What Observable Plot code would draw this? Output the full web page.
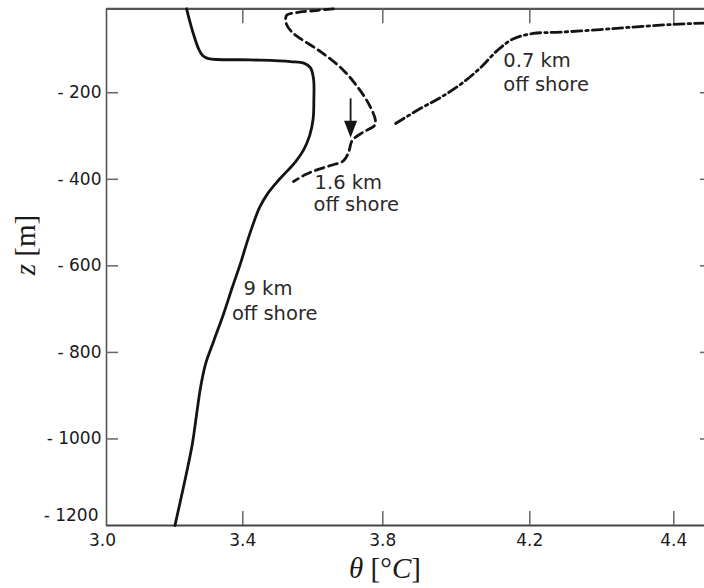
<!DOCTYPE html>
<html>
<head>
<meta charset="utf-8">
<script src="https://cdn.jsdelivr.net/npm/d3@7"></script>
<script src="https://cdn.jsdelivr.net/npm/@observablehq/plot@0.6"></script>
<style>
  body { margin: 0; background: #fff; }
  #chart svg { display: block; }
</style>
</head>
<body>
<div id="chart"></div>
<script>
// ---- data (theta in °C, z in m) ----
const theta9km = [3.235,3.252,3.270,3.282,3.299,3.422,3.536,3.576,3.593,3.602,3.603,3.601,3.591,3.573,3.551,3.528,3.499,3.471,3.448,3.428,3.411,3.393,3.369,3.344,3.315,3.291,3.276,3.266,3.252,3.232,3.202,3.201];
const z9km     = [-6,-56,-98,-114,-121,-124,-128,-132,-142,-167,-218,-260,-299,-333,-359,-380,-405,-433,-465,-507,-548,-595,-650,-710,-773,-826,-881,-934,-1011,-1089,-1196,-1200];

const theta16km = [3.659,3.608,3.551,3.525,3.525,3.542,3.565,3.622,3.685,3.731,3.762,3.779,3.776,3.742,3.713,3.702,3.688,3.651,3.616,3.579,3.545];
const z16km     = [-6,-10,-15,-21,-42,-61,-75,-105,-146,-190,-229,-264,-276,-292,-310,-338,-357,-368,-377,-389,-405];

const theta07km = [3.835,3.903,3.957,4.011,4.066,4.112,4.156,4.205,4.243,4.298,4.336,4.400,4.443];
const z07km     = [-271,-236,-211,-181,-142,-102,-75,-63,-60,-54,-49,-42,-39];

// arrow (from dashed profile downward)
const arrowTheta = 3.708, arrowFrom = -213, arrowTo = -304;

// tick labels
const xTickValues = [3.0, 3.4, 3.8, 4.2, 4.4];
const yTickValues = [-200, -400, -600, -800, -1000];
const yBottomTick = [-1200];

// annotation labels
const labelText  = ["0.7 km", "off shore", "1.6 km", "off shore", "9 km", "off shore"];
const labelTheta = [4.128, 4.128, 3.605, 3.602, 3.402, 3.368];
const labelZ     = [-127, -180.5, -407, -458, -654, -710];

// ---- build tables ----
const toRows = (t, z) => t.map((v, i) => ({theta: v, z: z[i]}));
const rows9 = toRows(theta9km, z9km);
const rows16 = toRows(theta16km, z16km);
const rows07 = toRows(theta07km, z07km);
const labels = labelText.map((t, i) => ({text: t, theta: labelTheta[i], z: labelZ[i]}));

const W = 704, H = 588, ML = 106, MR = 0, MT = 8.3, MB = 63;
const FW = W - ML - MR, FH = H - MT - MB;

const arrowHead = {
  draw(ctx) {
    ctx.moveTo(0, 0);
    ctx.lineTo(-6.5, -17);
    ctx.lineTo(6.5, -17);
    ctx.closePath();
  }
};

const tickStroke = "#666";

const chart = Plot.plot({
  width: W, height: H,
  marginLeft: ML, marginRight: MR, marginTop: MT, marginBottom: MB,
  style: {fontFamily: "'DejaVu Sans', sans-serif", fontSize: "17px", color: "#1a1a1a", background: "#fff"},
  x: {type: "linear", domain: xTickValues, range: [106, 242.3, 382.3, 529.3, 673.3], label: null},
  y: {type: "linear", domain: [-1200, -6], label: null},
  marks: [
    // frame
    Plot.ruleX([3.0], {stroke: "#555", strokeWidth: 1.6}),
    Plot.ruleY([-6], {stroke: "#555", strokeWidth: 2.2}),
    Plot.ruleY([-1200], {stroke: "#444", strokeWidth: 2.2}),
    // inward ticks
    Plot.tickX(xTickValues.slice(1), {x: d => d, stroke: tickStroke, strokeWidth: 1.5, insetTop: FH - 14}),
    Plot.tickX(xTickValues.slice(1), {x: d => d, stroke: tickStroke, strokeWidth: 1.5, insetBottom: FH - 15}),
    Plot.tickY(yTickValues, {y: d => d, stroke: tickStroke, strokeWidth: 1.5, insetRight: FW - 12}),
    Plot.tickY(yTickValues, {y: d => d, stroke: tickStroke, strokeWidth: 1.5, insetLeft: FW - 4}),
    // axes labels
    Plot.axisX(xTickValues.slice(1), {anchor: "bottom", tickSize: 0, tickPadding: 8, tickFormat: d3.format(".1f"), label: null}),
    Plot.axisX([3.0], {anchor: "bottom", tickSize: 0, tickPadding: 8, dx: -4, tickFormat: d3.format(".1f"), label: null}),
    Plot.axisY(yTickValues, {anchor: "left", tickSize: 0, tickPadding: 5, tickFormat: d => "- " + Math.abs(d), label: null}),
    Plot.axisY(yBottomTick, {anchor: "left", tickSize: 0, tickPadding: 8, dy: -10, tickFormat: d => "- " + Math.abs(d), label: null}),
    // profiles
    Plot.line(rows9, {x: "theta", y: "z", curve: "catmull-rom", stroke: "#141414", strokeWidth: 2.8}),
    Plot.line(rows16, {x: "theta", y: "z", curve: "catmull-rom", stroke: "#141414", strokeWidth: 2.8, strokeDasharray: "9,5"}),
    Plot.line(rows07, {x: "theta", y: "z", curve: "catmull-rom", stroke: "#141414", strokeWidth: 2.8, strokeDasharray: "10,4,2.5,4"}),
    // arrow
    Plot.link([0], {x1: () => arrowTheta, x2: () => arrowTheta, y1: () => arrowFrom, y2: () => arrowTo + 8, stroke: "#141414", strokeWidth: 1.8}),
    Plot.dot([0], {x: () => arrowTheta, y: () => arrowTo, symbol: arrowHead, fill: "#141414", stroke: "none"}),
    // annotations
    Plot.text(labels, {x: "theta", y: "z", text: "text", textAnchor: "start", lineAnchor: "middle", fontSize: 19.5, fill: "#2a2a2a"})
  ]
});

document.getElementById("chart").appendChild(chart);

// axis titles (LaTeX-like, mixed italic)
const svg = d3.select(chart);
const xl = svg.append("text")
  .attr("x", 385).attr("y", 578).attr("text-anchor", "middle")
  .style("font-family", "'Liberation Serif', serif").style("font-size", "29px").attr("fill", "#1a1a1a");
xl.append("tspan").style("font-style", "italic").text("θ");
xl.append("tspan").text(" [°");
xl.append("tspan").style("font-style", "italic").text("C");
xl.append("tspan").text("]");

const yl = svg.append("text")
  .attr("transform", "translate(35,245) rotate(-90)").attr("text-anchor", "middle")
  .style("font-family", "'Liberation Serif', serif").style("font-size", "29px").attr("fill", "#1a1a1a");
yl.append("tspan").style("font-style", "italic").text("z");
yl.append("tspan").text(" [m]");
</script>
</body>
</html>
